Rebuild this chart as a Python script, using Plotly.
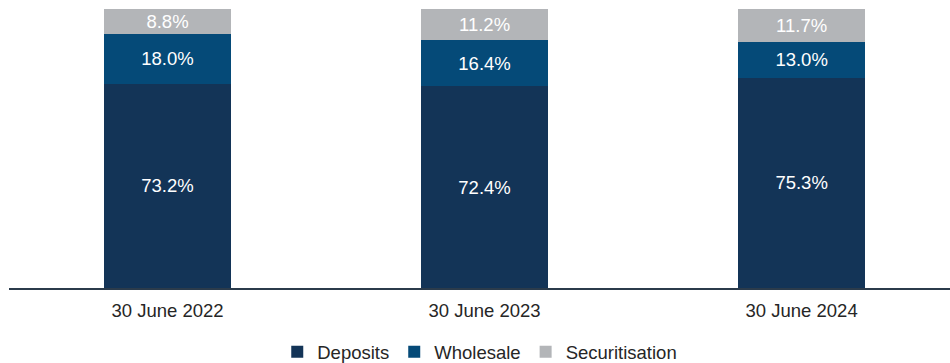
import plotly.graph_objects as go

# Funding mix by reporting date (% of total funding)
categories = ["30 June 2022", "30 June 2023", "30 June 2024"]
deposits = [73.2, 72.4, 75.3]
wholesale = [18.0, 16.4, 13.0]
securitisation = [8.8, 11.2, 11.7]

series = [
    ("Deposits", deposits, "#133457"),
    ("Wholesale", wholesale, "#054a78"),
    ("Securitisation", securitisation, "#b3b5b8"),
]

fig = go.Figure()
for name, values, colour in series:
    fig.add_trace(go.Bar(
        name=name,
        x=categories,
        y=values,
        marker=dict(color=colour, line=dict(width=0)),
        text=[f"{v:.1f}%" for v in values],
        textposition="inside",
        insidetextanchor="middle",
        constraintext="none",
        textfont=dict(family="Liberation Sans, Arial, sans-serif", size=18.5, color="#ffffff"),
        width=0.4,
        hoverinfo="skip",
    ))

fig.update_layout(
    barmode="stack",
    width=950,
    height=363,
    margin=dict(l=9, r=0, t=9, b=75),
    paper_bgcolor="#ffffff",
    plot_bgcolor="#ffffff",
    font=dict(family="Liberation Sans, Arial, sans-serif", size=18.5, color="#262626"),
    showlegend=True,
    legend=dict(
        orientation="h",
        traceorder="normal",
        xref="container",
        yref="container",
        x=0.505,
        y=0.03,
        xanchor="center",
        yanchor="middle",
        font=dict(size=18.5, color="#262626"),
        itemwidth=30,
        tracegroupgap=0,
    ),
    xaxis=dict(
        range=[-0.5, 2.468],
        showgrid=False,
        showline=True,
        linecolor="#2b3b4b",
        linewidth=1.5,
        ticks="",
        ticklabelstandoff=5,
        tickfont=dict(size=18.5, color="#262626"),
    ),
    yaxis=dict(
        range=[0, 100],
        visible=False,
        showgrid=False,
        zeroline=False,
    ),
)

fig.write_html("out.html")
